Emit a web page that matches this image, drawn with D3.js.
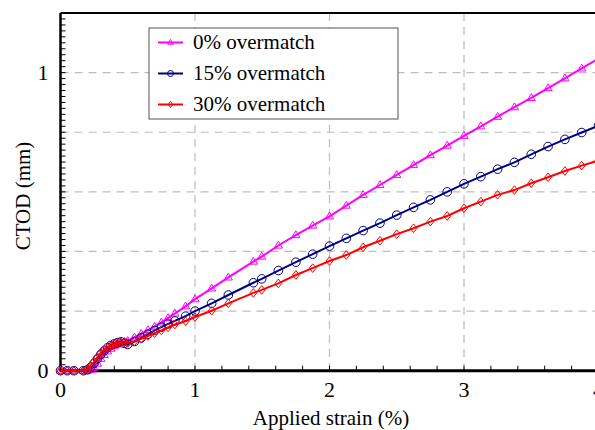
<!DOCTYPE html>
<html>
<head>
<meta charset="utf-8">
<script src="https://cdn.jsdelivr.net/npm/d3@7"></script>
<style>
    body { margin: 0; background: #fff; }
    svg { display: block; }
</style>
</head>
<body>
<div id="chart"></div>
<script>
// applied strain (%) shared by the three runs
var strain = [0, 0.05, 0.1, 0.17, 0.2, 0.225, 0.25, 0.275, 0.3, 0.325, 0.35, 0.375, 0.4, 0.425, 0.45, 0.475, 0.5,
    0.55, 0.6, 0.65, 0.7, 0.75, 0.8, 0.85, 0.93, 1.0, 1.124, 1.248, 1.434, 1.496, 1.62, 1.75, 1.875,
    2.0, 2.125, 2.25, 2.375, 2.5, 2.625, 2.75, 2.875, 3.0, 3.125, 3.25, 3.375, 3.5, 3.625, 3.75, 3.875, 4.0];

// CTOD (mm)
var ctod0 = [0, 0, 0, 0, 0, 0.003, 0.01, 0.024, 0.04, 0.053, 0.065, 0.074, 0.082, 0.088, 0.093, 0.097, 0.1,
    0.112, 0.124, 0.136, 0.148, 0.162, 0.177, 0.192, 0.216, 0.24, 0.276, 0.313, 0.366, 0.383, 0.42, 0.455, 0.487,
    0.518, 0.554, 0.59, 0.623, 0.657, 0.69, 0.723, 0.755, 0.788, 0.82, 0.852, 0.884, 0.915, 0.948, 0.981, 1.014, 1.047];
var ctod15 = [0, 0, 0, 0, 0.003, 0.012, 0.025, 0.04, 0.055, 0.067, 0.077, 0.085, 0.09, 0.094, 0.097, 0.092, 0.088,
    0.098, 0.11, 0.122, 0.135, 0.146, 0.157, 0.167, 0.183, 0.2, 0.226, 0.254, 0.295, 0.308, 0.336, 0.364, 0.391,
    0.418, 0.444, 0.47, 0.495, 0.522, 0.548, 0.573, 0.6, 0.627, 0.651, 0.676, 0.699, 0.726, 0.752, 0.776, 0.799, 0.822];
var ctod30 = [0, 0, 0, 0, 0.004, 0.016, 0.03, 0.045, 0.06, 0.07, 0.077, 0.083, 0.088, 0.092, 0.095, 0.095, 0.093,
    0.098, 0.107, 0.116, 0.126, 0.135, 0.145, 0.155, 0.166, 0.18, 0.201, 0.226, 0.261, 0.271, 0.293, 0.321, 0.344,
    0.368, 0.388, 0.414, 0.436, 0.458, 0.478, 0.5, 0.519, 0.545, 0.567, 0.59, 0.606, 0.629, 0.649, 0.67, 0.688, 0.705];

var seriesNames = ["0% overmatch", "15% overmatch", "30% overmatch"];
var seriesColors = ["#ff00ff", "#000080", "#ff0000"];
var seriesMarkers = ["triangle", "circle", "diamond"];
var xTicks = [0, 1, 2, 3, 4];
var yTicks = [0, 1];

var serif = "'Times New Roman', 'Liberation Serif', Tinos, 'DejaVu Serif', serif";
var width = 595, height = 430;
var x = d3.scaleLinear().domain([0, 4]).range([60.5, 598.5]);
var y = d3.scaleLinear().domain([0, 1.2]).range([370.7, 13]);

var svg = d3.select("#chart").append("svg")
    .attr("width", width)
    .attr("height", height)
    .style("font-family", serif);

// dashed grid
svg.append("g").selectAll("line")
    .data([1, 2, 3, 4])
    .enter().append("line")
    .attr("x1", function(d) { return x(d); })
    .attr("x2", function(d) { return x(d); })
    .attr("y1", y(1.2)).attr("y2", y(0))
    .attr("stroke", "#bdbdbd").attr("stroke-width", 1.2)
    .attr("stroke-dasharray", "8,6");
svg.append("g").selectAll("line")
    .data([0.2, 0.4, 0.6, 0.8, 1.0])
    .enter().append("line")
    .attr("y1", function(d) { return y(d); })
    .attr("y2", function(d) { return y(d); })
    .attr("x1", x(0)).attr("x2", x(4))
    .attr("stroke", "#bdbdbd").attr("stroke-width", 1.2)
    .attr("stroke-dasharray", "8,6");

// minor ticks, pointing inward
svg.append("g").selectAll("line")
    .data(d3.range(1, 20).map(function(i) { return i * 0.2; }))
    .enter().append("line")
    .attr("x1", function(d) { return x(d); })
    .attr("x2", function(d) { return x(d); })
    .attr("y1", y(0)).attr("y2", y(0) - 5)
    .attr("stroke", "#000").attr("stroke-width", 1);
svg.append("g").selectAll("line")
    .data(d3.range(1, 60).map(function(i) { return i * 0.02; }))
    .enter().append("line")
    .attr("y1", function(d) { return y(d); })
    .attr("y2", function(d) { return y(d); })
    .attr("x1", x(0)).attr("x2", x(0) + 5)
    .attr("stroke", "#000").attr("stroke-width", 1);

// frame
svg.append("line").attr("x1", x(0)).attr("x2", width).attr("y1", y(1.2)).attr("y2", y(1.2))
    .attr("stroke", "#000").attr("stroke-width", 2);
svg.append("line").attr("x1", x(0)).attr("x2", x(0)).attr("y1", y(1.2)).attr("y2", y(0))
    .attr("stroke", "#000").attr("stroke-width", 2.5);
svg.append("line").attr("x1", x(0) - 1).attr("x2", width).attr("y1", y(0)).attr("y2", y(0))
    .attr("stroke", "#000").attr("stroke-width", 3);

// tick labels
svg.append("g").selectAll("text")
    .data(xTicks)
    .enter().append("text")
    .attr("x", function(d) { return x(d); })
    .attr("y", y(0) + 26)
    .attr("text-anchor", "middle")
    .style("font-size", "22px")
    .text(function(d) { return d; });
svg.append("g").selectAll("text")
    .data(yTicks)
    .enter().append("text")
    .attr("x", x(0) - 12)
    .attr("y", function(d) { return y(d); })
    .attr("dy", "0.35em")
    .attr("text-anchor", "end")
    .style("font-size", "22px")
    .text(function(d) { return d; });

// axis titles
svg.append("text")
    .attr("x", 331).attr("y", 425)
    .attr("text-anchor", "middle")
    .style("font-size", "21px")
    .text("Applied strain (%)");
svg.append("text")
    .attr("transform", "translate(30,196) rotate(-90)")
    .attr("text-anchor", "middle")
    .style("font-size", "21px")
    .text("CTOD (mm)");

function markerPath(type, s) {
    if (type == "triangle") {
        return "M0," + (-s) + "L" + (s * 0.95) + "," + (s * 0.6) + "L" + (-s * 0.95) + "," + (s * 0.6) + "Z";
    }
    if (type == "diamond") {
        return "M0," + (-s) + "L" + (s * 0.8) + ",0L0," + s + "L" + (-s * 0.8) + ",0Z";
    }
    return "M" + s + ",0A" + s + "," + s + " 0 1,1 " + (-s) + ",0A" + s + "," + s + " 0 1,1 " + s + ",0Z";
}

var allCtod = [ctod0, ctod15, ctod30];
var line = d3.line()
    .x(function(d) { return x(d[0]); })
    .y(function(d) { return y(d[1]); });

// draw 0% first, 30% ends up on top like in the original
for (var k = 0; k < 3; k++) {
    var pts = strain.map(function(s, i) { return [s, allCtod[k][i]]; });
    var g = svg.append("g");
    g.append("path")
        .attr("d", line(pts))
        .attr("fill", "none")
        .attr("stroke", seriesColors[k])
        .attr("stroke-width", 2);
    g.selectAll("path.mk")
        .data(pts)
        .enter().append("path")
        .attr("class", "mk")
        .attr("transform", function(d) { return "translate(" + x(d[0]) + "," + y(d[1]) + ")"; })
        .attr("d", markerPath(seriesMarkers[k], 4.3))
        .attr("fill", "none")
        .attr("stroke", seriesColors[k])
        .attr("stroke-width", 1);
}

// legend
var legend = svg.append("g").attr("transform", "translate(149,28)");
legend.append("rect")
    .attr("width", 249).attr("height", 91)
    .attr("fill", "#fff")
    .attr("stroke", "#555").attr("stroke-width", 1);
var rows = legend.selectAll("g")
    .data(seriesNames)
    .enter().append("g")
    .attr("transform", function(d, i) { return "translate(0," + (14.5 + i * 31) + ")"; });
rows.append("line")
    .attr("x1", 9).attr("x2", 34)
    .attr("stroke", function(d, i) { return seriesColors[i]; })
    .attr("stroke-width", 2);
rows.append("path")
    .attr("transform", "translate(21.5,0)")
    .attr("d", function(d, i) { return markerPath(seriesMarkers[i], 3); })
    .attr("fill", "none")
    .attr("stroke", function(d, i) { return seriesColors[i]; })
    .attr("stroke-width", 1);
rows.append("text")
    .attr("x", 44)
    .attr("dy", "0.33em")
    .style("font-size", "21px")
    .text(function(d) { return d; });
</script>
</body>
</html>
